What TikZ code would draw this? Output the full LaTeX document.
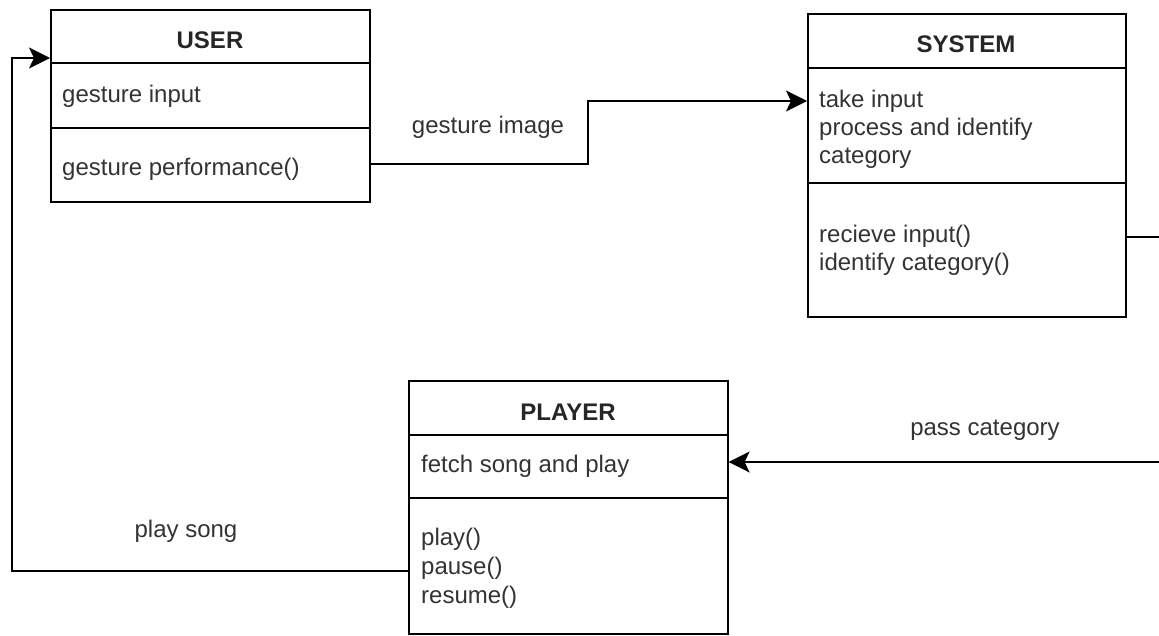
\documentclass[tikz,border=0pt]{standalone}
\usepackage{fontspec}
\setmainfont{Liberation Sans}
\usetikzlibrary{arrows.meta}

\tikzset{
  classbox/.style={draw=black, line width=1.6pt, rectangle, inner sep=0pt, anchor=north west},
  divider/.style={draw=black, line width=1.6pt},
  conn/.style={draw=black, line width=1.6pt},
  arr/.style={conn, -{Stealth[length=21pt, width=21pt, inset=5pt]}},
  title/.style={font=\fontsize{24}{28}\selectfont\bfseries, text=black!85, anchor=base, inner sep=0pt},
  member/.style={font=\fontsize{24}{28}\selectfont, text=black!80, anchor=base west, inner sep=0pt},
  lbl/.style={font=\fontsize{24}{28}\selectfont, text=black!80, anchor=base, inner sep=0pt},
}

\begin{document}
\begin{tikzpicture}[x=1pt, y=-1pt]
  \useasboundingbox (0,0) rectangle (1159,635);
  \clip (0,0) rectangle (1159,635);

  % class boxes
  \node[classbox, minimum width=319pt, minimum height=192pt] (user) at (50,9) {};
  \node[classbox, minimum width=318pt, minimum height=303pt] (system) at (807,13) {};
  \node[classbox, minimum width=319pt, minimum height=253pt] (player) at (408,380) {};

  % compartment dividers
  \draw[divider] (user.west |- 0,63) -- (user.east |- 0,63);
  \draw[divider] (user.west |- 0,128) -- (user.east |- 0,128);
  \draw[divider] (system.west |- 0,68) -- (system.east |- 0,68);
  \draw[divider] (system.west |- 0,183) -- (system.east |- 0,183);
  \draw[divider] (player.west |- 0,435) -- (player.east |- 0,435);
  \draw[divider] (player.west |- 0,498) -- (player.east |- 0,498);

  % USER
  \node[title] (userT) at (210,48) {USER};
  \node[member] (userA) at (62,102) {gesture input};
  \node[member] (userM) at (62,175) {gesture performance()};

  % SYSTEM
  \node[title] (systemT) at (966,52) {SYSTEM};
  \node[member] (sysA1) at (819,107) {take input};
  \node[member] (sysA2) at (819,135) {process and identify};
  \node[member] (sysA3) at (819,163) {category};
  \node[member] (sysM1) at (819,242) {recieve input()};
  \node[member] (sysM2) at (819,270) {identify category()};

  % PLAYER
  \node[title] (playerT) at (568,420) {PLAYER};
  \node[member] (plA) at (421,472) {fetch song and play};
  \node[member] (plM1) at (421,545) {play()};
  \node[member] (plM2) at (421,574) {pause()};
  \node[member] (plM3) at (421,603) {resume()};

  % connector labels
  \node[lbl] (lblGesture) at (488,133) {gesture image};
  \node[lbl] (lblPass) at (985,435) {pass category};
  \node[lbl] (lblPlay) at (186,537) {play song};

  % connectors
  \coordinate (gx) at (588,0);
  \coordinate (rx) at (1175,0);
  \coordinate (lx) at (12,0);
  \draw[arr] (user.east |- 0,164) -- (gx |- 0,164) -- (gx |- 0,101) -- (system.west |- 0,101);
  \draw[arr] (system.east |- 0,237) -- (rx |- 0,237) -- (rx |- 0,462) -- (player.east |- 0,462);
  \draw[arr] (player.west |- 0,571) -- (lx |- 0,571) -- (lx |- 0,58) -- (user.west |- 0,58);
\end{tikzpicture}
\end{document}
